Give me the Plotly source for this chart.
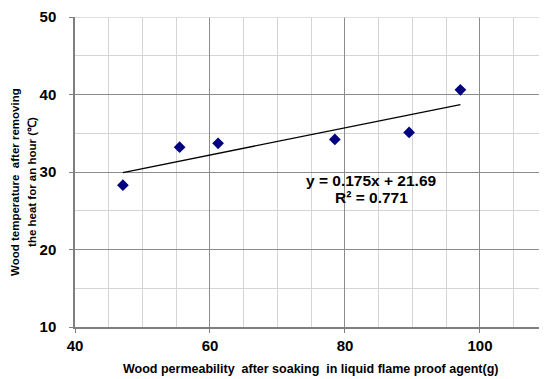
import plotly.graph_objects as go

# Data
permeability = [47.1, 55.5, 61.2, 78.5, 89.5, 97.1]
temperature = [28.3, 33.2, 33.7, 34.2, 35.1, 40.6]
trend_slope = 0.175
trend_intercept = 21.69
r_squared = 0.771

x_ticks = [40, 60, 80, 100]
y_ticks = [10, 20, 30, 40, 50]

FONT = "Liberation Sans, Arial, sans-serif"
OFF = 8  # default body margin of the html page

trend_x = [min(permeability), max(permeability)]
trend_y = [trend_slope * v + trend_intercept for v in trend_x]

fig = go.Figure()
fig.add_trace(go.Scatter(
    x=trend_x, y=trend_y, mode="lines",
    line=dict(color="black", width=1.3), hoverinfo="skip", showlegend=False))
fig.add_trace(go.Scatter(
    x=permeability, y=temperature, mode="markers",
    marker=dict(symbol="diamond", size=9, color="#000080"),
    showlegend=False))

fig.update_layout(
    width=547 - OFF, height=379 - OFF,
    margin=dict(l=75 - OFF, r=0, t=15 - OFF, b=52, pad=0),
    paper_bgcolor="white", plot_bgcolor="white",
    font=dict(family=FONT, color="black"),
    xaxis=dict(
        range=[40, 109.93], tickvals=x_ticks, ticktext=[str(v) for v in x_ticks],
        showgrid=True, gridcolor="#8c8c8c", gridwidth=1,
        minor=dict(dtick=5, tick0=0, showgrid=True, gridcolor="#d4d4d4", gridwidth=1, ticks=""),
        showline=True, linecolor="#7f7f7f", linewidth=1.5, mirror=False,
        ticks="outside", ticklen=4, tickcolor="#7f7f7f",
        tickfont=dict(size=15, family=FONT, weight="bold", color="black"),
        ticklabelstandoff=0, ticklabeloverflow="allow",
        zeroline=False, fixedrange=True,
    ),
    yaxis=dict(
        range=[10, 50], tickvals=y_ticks, ticktext=[str(v) for v in y_ticks],
        showgrid=True, gridcolor="#8c8c8c", gridwidth=1,
        minor=dict(dtick=5, tick0=0, showgrid=True, gridcolor="#d4d4d4", gridwidth=1, ticks=""),
        showline=True, linecolor="#7f7f7f", linewidth=1.5, mirror=False,
        ticks="outside", ticklen=4, tickcolor="#7f7f7f",
        tickfont=dict(size=15, family=FONT, weight="bold", color="black"),
        ticklabelstandoff=10, ticklabeloverflow="allow",
        zeroline=False, fixedrange=True,
    ),
    shapes=[dict(type="line", xref="x", yref="y", x0=40, x1=109.93, y0=50, y1=50,
                 line=dict(color="#d4d4d4", width=1.5), layer="above")],
    annotations=[
        dict(text="<b>Wood permeability&nbsp; after soaking&nbsp; in liquid flame proof agent(g)</b>",
             xref="paper", yref="paper", x=(311 - 75) / 472, y=-(369 - 327) / 312,
             xanchor="center", yanchor="middle", showarrow=False,
             font=dict(size=12.5, family=FONT)),
        dict(text="<b>Wood temperature&nbsp; after removing</b>",
             xref="paper", yref="paper", x=(15 - 75) / 472, y=(327 - 181) / 312,
             xanchor="center", yanchor="middle", textangle=-90, showarrow=False,
             font=dict(size=11.5, family=FONT)),
        dict(text="<b>the heat for an hour (℃)</b>",
             xref="paper", yref="paper", x=(32 - 75) / 472, y=(327 - 181) / 312,
             xanchor="center", yanchor="middle", textangle=-90, showarrow=False,
             font=dict(size=11.5, family=FONT)),
        dict(text=f"<b>y = {trend_slope}x + {trend_intercept}</b>",
             xref="paper", yref="paper", x=(371.5 - 75) / 472, y=(327 - 180) / 312,
             xanchor="center", yanchor="middle", showarrow=False,
             font=dict(size=15.5, family=FONT)),
        dict(text=f"<b>R² = {r_squared}</b>",
             xref="paper", yref="paper", x=(371.5 - 75) / 472, y=(327 - 197) / 312,
             xanchor="center", yanchor="middle", showarrow=False,
             font=dict(size=15.5, family=FONT)),
    ],
)

fig.write_html("out.html")
